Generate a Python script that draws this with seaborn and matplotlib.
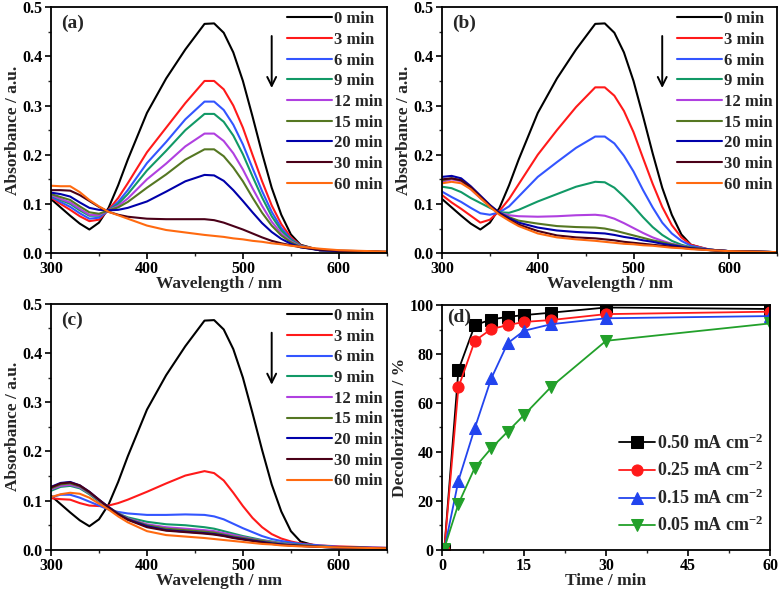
import matplotlib
matplotlib.use("Agg")
import matplotlib.pyplot as plt
from matplotlib.ticker import MultipleLocator, FormatStrFormatter
import seaborn as sns

# wavelength grid (nm) shared by all spectra
WL = [300, 310, 320, 330, 340, 350, 360, 370, 380, 400, 420, 440, 460, 470,
      480, 490, 500, 510, 520, 530, 540, 550, 560, 580, 600, 650]

TIMES = ["0 min", "3 min", "6 min", "9 min", "12 min", "15 min", "20 min", "30 min", "60 min"]
COLORS = ["#000000", "#ff1a1a", "#3355ff", "#119966", "#b040e0", "#557722",
          "#0000aa", "#4a0018", "#ff6a10"]

ABS_0 = [0.110, 0.093, 0.076, 0.060, 0.048, 0.062, 0.092, 0.138, 0.190, 0.285, 0.355, 0.414, 0.466,
         0.467, 0.448, 0.408, 0.350, 0.278, 0.203, 0.133, 0.078, 0.038, 0.017, 0.006, 0.004, 0.002]

SPEC_A = [
    ABS_0,
    [0.113, 0.100, 0.088, 0.075, 0.065, 0.068, 0.088, 0.112, 0.142, 0.205, 0.255, 0.305, 0.350,
     0.350, 0.333, 0.300, 0.255, 0.200, 0.146, 0.097, 0.059, 0.032, 0.016, 0.006, 0.004, 0.002],
    [0.115, 0.104, 0.094, 0.081, 0.070, 0.072, 0.087, 0.104, 0.128, 0.183, 0.226, 0.272, 0.308,
     0.308, 0.291, 0.261, 0.221, 0.173, 0.126, 0.084, 0.051, 0.029, 0.015, 0.006, 0.004, 0.002],
    [0.117, 0.108, 0.100, 0.087, 0.076, 0.076, 0.087, 0.100, 0.120, 0.168, 0.208, 0.250, 0.283,
     0.283, 0.267, 0.239, 0.201, 0.156, 0.113, 0.075, 0.046, 0.027, 0.015, 0.006, 0.004, 0.002],
    [0.118, 0.110, 0.103, 0.090, 0.078, 0.077, 0.087, 0.096, 0.111, 0.150, 0.182, 0.217, 0.243,
     0.243, 0.228, 0.203, 0.170, 0.132, 0.096, 0.064, 0.040, 0.024, 0.014, 0.006, 0.004, 0.002],
    [0.120, 0.114, 0.108, 0.095, 0.083, 0.080, 0.087, 0.093, 0.104, 0.133, 0.160, 0.190, 0.211,
     0.211, 0.197, 0.174, 0.146, 0.113, 0.082, 0.056, 0.036, 0.022, 0.013, 0.006, 0.004, 0.002],
    [0.123, 0.120, 0.115, 0.103, 0.092, 0.088, 0.087, 0.088, 0.092, 0.105, 0.125, 0.146, 0.159,
     0.158, 0.147, 0.128, 0.106, 0.083, 0.061, 0.043, 0.029, 0.019, 0.012, 0.006, 0.004, 0.002],
    [0.128, 0.128, 0.127, 0.118, 0.106, 0.094, 0.084, 0.078, 0.074, 0.070, 0.069, 0.069, 0.069,
     0.067, 0.062, 0.055, 0.048, 0.040, 0.032, 0.025, 0.020, 0.016, 0.012, 0.007, 0.005, 0.003],
    [0.137, 0.136, 0.136, 0.124, 0.108, 0.095, 0.084, 0.077, 0.070, 0.056, 0.047, 0.042, 0.037,
     0.035, 0.033, 0.030, 0.028, 0.025, 0.023, 0.020, 0.018, 0.015, 0.013, 0.009, 0.006, 0.003],
]

SPEC_B = [
    ABS_0,
    [0.118, 0.103, 0.090, 0.076, 0.062, 0.068, 0.086, 0.110, 0.140, 0.200, 0.250, 0.297, 0.337,
     0.337, 0.320, 0.289, 0.246, 0.193, 0.141, 0.094, 0.057, 0.032, 0.017, 0.007, 0.004, 0.002],
    [0.125, 0.114, 0.104, 0.092, 0.081, 0.078, 0.083, 0.095, 0.115, 0.155, 0.185, 0.214, 0.237,
     0.237, 0.223, 0.198, 0.166, 0.128, 0.093, 0.062, 0.040, 0.025, 0.015, 0.007, 0.004, 0.002],
    [0.135, 0.132, 0.124, 0.112, 0.102, 0.092, 0.083, 0.082, 0.088, 0.105, 0.120, 0.135, 0.145,
     0.144, 0.133, 0.115, 0.095, 0.073, 0.053, 0.037, 0.025, 0.017, 0.012, 0.007, 0.004, 0.002],
    [0.145, 0.150, 0.146, 0.130, 0.112, 0.095, 0.082, 0.077, 0.075, 0.074, 0.075, 0.077, 0.078,
     0.076, 0.070, 0.061, 0.051, 0.041, 0.032, 0.025, 0.019, 0.015, 0.011, 0.007, 0.004, 0.002],
    [0.148, 0.152, 0.148, 0.133, 0.115, 0.097, 0.082, 0.073, 0.066, 0.060, 0.055, 0.053, 0.052,
     0.050, 0.046, 0.041, 0.036, 0.031, 0.026, 0.022, 0.018, 0.014, 0.011, 0.007, 0.004, 0.002],
    [0.155, 0.157, 0.152, 0.136, 0.117, 0.098, 0.082, 0.071, 0.062, 0.052, 0.046, 0.043, 0.041,
     0.040, 0.037, 0.033, 0.030, 0.026, 0.023, 0.019, 0.016, 0.013, 0.010, 0.007, 0.004, 0.002],
    [0.150, 0.152, 0.148, 0.134, 0.115, 0.096, 0.080, 0.068, 0.058, 0.045, 0.036, 0.032, 0.030,
     0.028, 0.026, 0.023, 0.021, 0.019, 0.017, 0.015, 0.013, 0.011, 0.009, 0.006, 0.004, 0.002],
    [0.142, 0.145, 0.142, 0.130, 0.112, 0.094, 0.078, 0.066, 0.055, 0.040, 0.032, 0.028, 0.025,
     0.023, 0.021, 0.019, 0.018, 0.016, 0.015, 0.013, 0.011, 0.010, 0.008, 0.006, 0.004, 0.002],
]

SPEC_C = [
    ABS_0,
    [0.105, 0.103, 0.102, 0.095, 0.090, 0.089, 0.090, 0.095, 0.102, 0.118, 0.135, 0.151, 0.160,
     0.156, 0.141, 0.116, 0.089, 0.065, 0.046, 0.032, 0.023, 0.017, 0.013, 0.009, 0.007, 0.004],
    [0.107, 0.112, 0.112, 0.106, 0.098, 0.090, 0.082, 0.077, 0.074, 0.071, 0.071, 0.072, 0.071,
     0.068, 0.062, 0.053, 0.044, 0.036, 0.028, 0.022, 0.018, 0.015, 0.012, 0.009, 0.006, 0.004],
    [0.120, 0.128, 0.130, 0.125, 0.113, 0.098, 0.085, 0.074, 0.066, 0.057, 0.052, 0.050, 0.046,
     0.043, 0.038, 0.033, 0.028, 0.024, 0.020, 0.017, 0.014, 0.012, 0.010, 0.007, 0.005, 0.003],
    [0.123, 0.130, 0.132, 0.127, 0.115, 0.100, 0.086, 0.074, 0.064, 0.052, 0.046, 0.043, 0.040,
     0.038, 0.034, 0.030, 0.026, 0.022, 0.019, 0.016, 0.013, 0.011, 0.009, 0.007, 0.005, 0.003],
    [0.125, 0.133, 0.135, 0.129, 0.116, 0.101, 0.087, 0.074, 0.063, 0.050, 0.043, 0.040, 0.037,
     0.035, 0.031, 0.027, 0.024, 0.021, 0.018, 0.015, 0.012, 0.010, 0.009, 0.007, 0.005, 0.003],
    [0.128, 0.136, 0.138, 0.131, 0.118, 0.102, 0.087, 0.073, 0.062, 0.048, 0.040, 0.037, 0.034,
     0.032, 0.029, 0.025, 0.022, 0.019, 0.016, 0.013, 0.011, 0.009, 0.008, 0.006, 0.005, 0.003],
    [0.127, 0.135, 0.137, 0.131, 0.118, 0.102, 0.086, 0.072, 0.061, 0.046, 0.039, 0.036, 0.033,
     0.031, 0.028, 0.024, 0.021, 0.018, 0.015, 0.012, 0.010, 0.009, 0.008, 0.006, 0.005, 0.003],
    [0.107, 0.113, 0.116, 0.114, 0.106, 0.094, 0.082, 0.068, 0.056, 0.038, 0.030, 0.027, 0.024,
     0.022, 0.020, 0.018, 0.016, 0.014, 0.012, 0.011, 0.009, 0.008, 0.007, 0.006, 0.005, 0.003],
]

# panel (d): decolorization vs time
TIME_MIN = [0.4, 3, 6, 9, 12, 15, 20, 30, 60]
CURRENTS = ["0.50 mA cm$^{-2}$", "0.25 mA cm$^{-2}$", "0.15 mA cm$^{-2}$", "0.05 mA cm$^{-2}$"]
DEC_050 = [0.0, 73.5, 91.8, 94.1, 95.2, 95.9, 96.9, 99.0, 98.4]
DEC_025 = [0.0, 66.4, 85.4, 90.2, 91.8, 93.1, 93.9, 96.3, 97.3]
DEC_015 = [0.0, 28.3, 49.8, 70.0, 84.4, 89.5, 92.2, 94.6, 95.5]
DEC_005 = [0.5, 18.8, 33.6, 41.5, 48.3, 55.1, 66.7, 85.4, 92.5]
D_COLORS = ["#000000", "#ff1a1a", "#2244ee", "#22a02a"]
D_MARKERS = ["s", "o", "^", "v"]

sns.set_style("ticks")
plt.rcParams["font.family"] = ["Liberation Serif", "DejaVu Serif"]
plt.rcParams["font.weight"] = "bold"
plt.rcParams["axes.labelweight"] = "bold"
plt.rcParams["mathtext.fontset"] = "custom"
plt.rcParams["mathtext.rm"] = "Liberation Serif:bold"
plt.rcParams["mathtext.default"] = "rm"

TICK_FS = 11.5
LABEL_FS = 12.5
LEG_FS = 12
TAG_FS = 14


def style_axes(ax):
    for s in ax.spines.values():
        s.set_linewidth(1.3)
        s.set_color("black")
    ax.tick_params(which="major", direction="out", length=4, width=1.2,
                   labelsize=TICK_FS, colors="black", pad=2)
    ax.tick_params(which="minor", direction="out", length=2.5, width=1.0)
    for lab in ax.get_xticklabels() + ax.get_yticklabels():
        lab.set_fontweight("bold")


def spectra_panel(ax, spectra, tag):
    for vals, lab, col in zip(spectra, TIMES, COLORS):
        sns.lineplot(x=WL, y=vals, color=col, lw=1.5, label=lab, ax=ax)
    ax.set_xlim(300, 650)
    ax.set_ylim(0, 0.5)
    ax.xaxis.set_major_locator(MultipleLocator(100))
    ax.xaxis.set_minor_locator(MultipleLocator(50))
    ax.yaxis.set_major_locator(MultipleLocator(0.1))
    ax.yaxis.set_minor_locator(MultipleLocator(0.05))
    ax.yaxis.set_major_formatter(FormatStrFormatter("%.1f"))
    ax.set_xlabel("Wavelength / nm", fontsize=LABEL_FS, labelpad=-1)
    ax.set_ylabel("Absorbance / a.u.", fontsize=LABEL_FS, labelpad=1)
    ax.text(0.03, 0.97, tag, transform=ax.transAxes, fontsize=TAG_FS, fontweight="bold",
            va="top", ha="left")
    ax.annotate("", xy=(530, 0.33), xytext=(530, 0.447),
                arrowprops=dict(arrowstyle="->", lw=1.4, color="black", mutation_scale=16))
    leg = ax.legend(loc="upper right", frameon=False, fontsize=LEG_FS, handlelength=2.7,
                    handletextpad=0.15, labelspacing=0.28, borderaxespad=0.05,
                    borderpad=0.2)
    for t in leg.get_texts():
        t.set_fontweight("bold")
    style_axes(ax)


fig = plt.figure(figsize=(7.81, 5.97), dpi=100)
ax_a = fig.add_axes([0.0653, 0.576, 0.430, 0.412])
ax_b = fig.add_axes([0.566, 0.576, 0.429, 0.412])
ax_c = fig.add_axes([0.0653, 0.079, 0.430, 0.412])
ax_d = fig.add_axes([0.566, 0.079, 0.420, 0.410])

spectra_panel(ax_a, SPEC_A, "(a)")
spectra_panel(ax_b, SPEC_B, "(b)")
spectra_panel(ax_c, SPEC_C, "(c)")

for vals, lab, col, mk in zip([DEC_050, DEC_025, DEC_015, DEC_005], CURRENTS, D_COLORS, D_MARKERS):
    sns.lineplot(x=TIME_MIN, y=vals, color=col, lw=1.3, marker=mk, markersize=8,
                 markeredgecolor=col, markerfacecolor=col, label=lab, ax=ax_d)
ax_d.set_xlim(0, 60)
ax_d.set_ylim(0, 100)
ax_d.xaxis.set_major_locator(MultipleLocator(15))
ax_d.xaxis.set_minor_locator(MultipleLocator(7.5))
ax_d.yaxis.set_major_locator(MultipleLocator(20))
ax_d.yaxis.set_minor_locator(MultipleLocator(10))
ax_d.set_xlabel("Time / min", fontsize=LABEL_FS, labelpad=-1)
ax_d.set_ylabel("Decolorization / %", fontsize=LABEL_FS, labelpad=1)
ax_d.text(0.015, 0.985, "(d)", transform=ax_d.transAxes, fontsize=TAG_FS, fontweight="bold",
          va="top", ha="left")
leg = ax_d.legend(loc="lower right", bbox_to_anchor=(1.025, 0.0), frameon=False,
                  fontsize=LEG_FS + 1, handlelength=2.0, handletextpad=0.1,
                  labelspacing=0.45, borderaxespad=0.4)
for t in leg.get_texts():
    t.set_fontweight("bold")
style_axes(ax_d)

fig.savefig("out.png", dpi=100)
